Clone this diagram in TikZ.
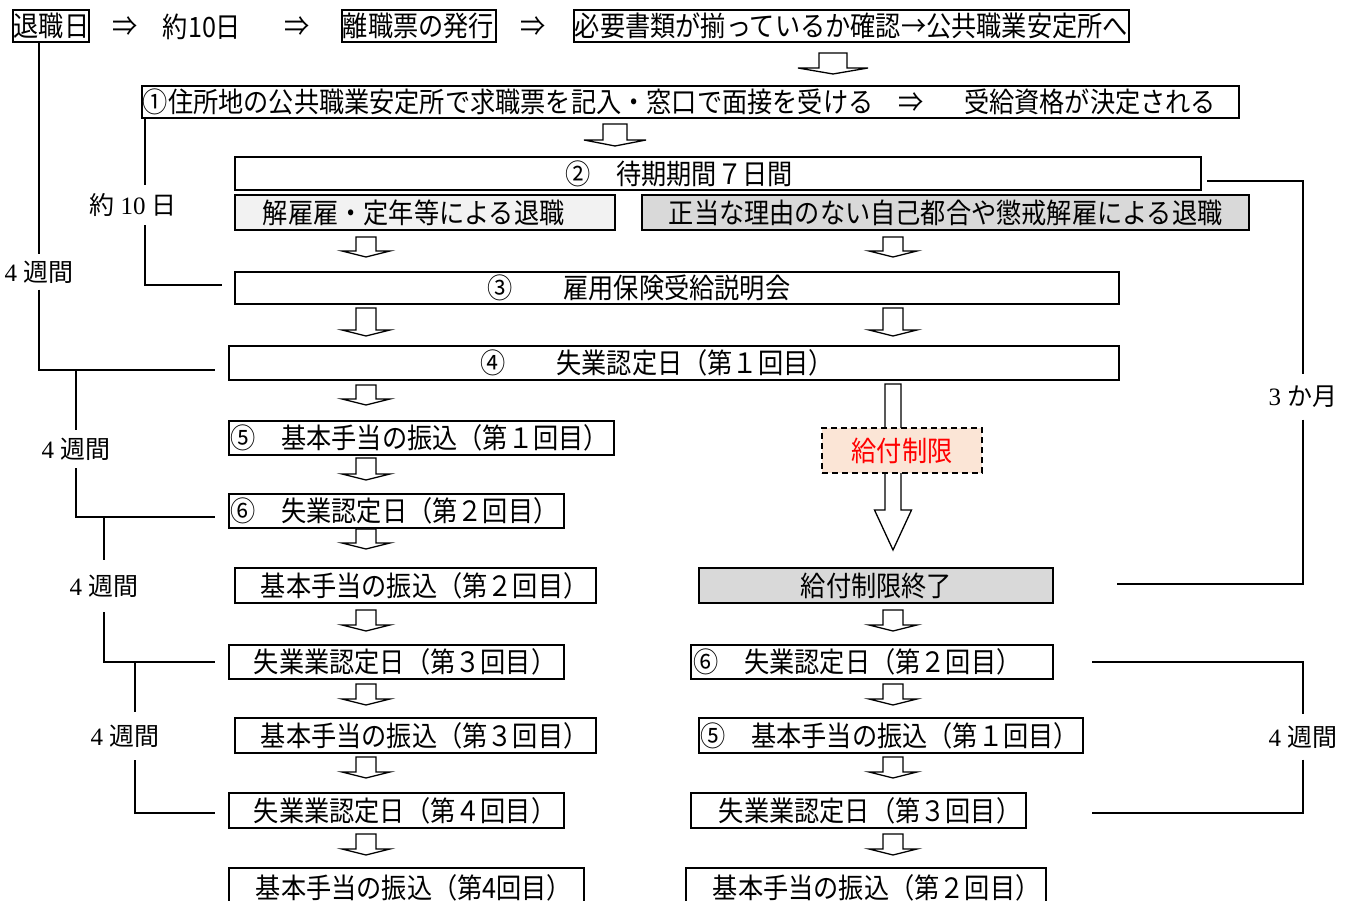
\documentclass[tikz,border=0pt]{standalone}
\usepackage{fontspec}
\setmainfont{Liberation Serif}
\newfontfamily\cjk{Noto Sans CJK JP}[FakeStretch=0.9]
\newfontfamily\cjkl{Noto Sans CJK JP}
\usetikzlibrary{calc}
\definecolor{lgray}{HTML}{F2F2F2}
\definecolor{dgray}{HTML}{D9D9D9}
\definecolor{peach}{HTML}{FBE5D6}
\newcommand\btxt[3]{\makebox[#1pt][l]{\hspace*{#2pt}#3}}
\newcommand\dnarr[6]{% x, ytop, ybot, shaft half, head half, head height
  \draw[barrow] (#1-#4,#2) -- (#1+#4,#2) -- (#1+#4,#3-#6) -- (#1+#5,#3-#6) -- (#1,#3) -- (#1-#5,#3-#6) -- (#1-#4,#3-#6) -- cycle;}
\newcommand\sarr[3]{\dnarr{#1}{#2}{#3}{10}{24}{6}}
\begin{document}
\begin{tikzpicture}[x=1pt,y=-1pt,
  bx/.style={draw=black, line width=1.6pt, inner sep=0pt, anchor=west, font=\cjk\fontsize{28}{30}\selectfont},
  plain/.style={inner sep=0pt, font=\cjk\fontsize{28}{30}\selectfont},
  lab/.style={inner sep=0pt, font=\fontsize{25}{27}\selectfont},
  brk/.style={line width=1.6pt},
  barrow/.style={draw=black, line width=1.3pt, fill=white, line join=miter}]
\useasboundingbox (0,0) rectangle (1354,901);
\clip (0,0) rectangle (1354,901);

% top row
\node[bx, minimum height=32] (r1) at (12,26) {\btxt{76}{1}{退職日}};
\node[plain] (p1) at (125,27) {⇒};
\node[plain] (d10) at (202,27) {約10日};
\node[plain] (p2) at (297,27) {⇒};
\node[bx, minimum height=32] (r2) at (341,26) {\btxt{154}{1}{離職票の発行}};
\node[plain] (p3) at (533,27) {⇒};
\node[bx, minimum height=32] (r3) at (573,26) {\btxt{555}{1}{必要書類が揃っているか確認→公共職業安定所へ}};

\dnarr{833}{53}{74}{14}{35}{6}
\node[bx, minimum height=32] (b1) at (141,102) {\btxt{1097}{1}{①住所地の公共職業安定所で求職票を記入・窓口で面接を受ける　⇒　\hspace*{15pt}受給資格が決定される}};
\dnarr{615}{124}{146}{12}{31}{6}
\node[bx, minimum height=33] (b2) at (234,173.5) {\btxt{966}{331}{②　待期期間７日間}};
\node[bx, minimum height=35, fill=lgray] (g1) at (234,212.5) {\btxt{380}{28}{解雇雇・定年等による退職}};
\node[bx, minimum height=35, fill=dgray] (g2) at (641,212.5) {\btxt{607}{27}{正当な理由のない自己都合や懲戒解雇による退職}};
\sarr{366}{237}{257}
\sarr{893}{237}{257}
\node[bx, minimum height=32] (b3) at (234,288) {\btxt{884}{253}{③　　雇用保険受給説明会}};
\sarr{366}{308}{336}
\sarr{893}{308}{336}
\node[bx, minimum height=34] (b4) at (228,363) {\btxt{890}{252}{④　　失業認定日（第１回目）}};

% left column
\sarr{366}{385}{405}
\node[bx, minimum height=34] (L5) at (228,438) {\btxt{385}{2}{⑤　基本手当の振込（第１回目）}};
\sarr{366}{458}{480}
\node[bx, minimum height=34] (L6) at (228,511) {\btxt{335}{2}{⑥　失業認定日（第２回目）}};
\sarr{366}{529}{549}
\node[bx, minimum height=35] (L7) at (234,585.5) {\btxt{361}{26}{基本手当の振込（第２回目）}};
\sarr{366}{610}{631}
\node[bx, minimum height=34] (L8) at (228,662) {\btxt{335}{25}{失業業認定日（第３回目）}};
\sarr{366}{684}{705}
\node[bx, minimum height=35] (L9) at (234,735.5) {\btxt{361}{26}{基本手当の振込（第３回目）}};
\sarr{366}{757}{778}
\node[bx, minimum height=35] (L10) at (228,810.5) {\btxt{335}{25}{失業業認定日（第４回目）}};
\sarr{366}{834}{855}
\node[bx, minimum height=40] (L11) at (228,888) {\btxt{355}{27}{基本手当の振込（第4回目）}};

% right column
\dnarr{893}{384}{550}{8}{18.5}{40}
\node[draw=black, dashed, dash pattern=on 6pt off 4pt, line width=1.5pt, fill=peach, minimum width=160, minimum height=45, inner sep=0pt, text=red, font=\cjk\fontsize{28}{30}\selectfont] (lim) at (902,450.5) {給付制限};
\node[bx, minimum height=35, fill=dgray] (end) at (698,585.5) {\btxt{354}{102}{給付制限終了}};
\sarr{893}{610}{631}
\node[bx, minimum height=34] (R6) at (690,662) {\btxt{362}{3}{⑥　失業認定日（第２回目）}};
\sarr{893}{684}{705}
\node[bx, minimum height=35] (R5) at (698,735.5) {\btxt{384}{2}{⑤　基本手当の振込（第１回目）}};
\sarr{893}{757}{778}
\node[bx, minimum height=35] (R8) at (690,810.5) {\btxt{335}{28}{失業業認定日（第３回目）}};
\sarr{893}{834}{855}
\node[bx, minimum height=40] (R11) at (685,888) {\btxt{360}{27}{基本手当の振込（第２回目）}};

% bracket labels
\node[lab, minimum height=40] (k10) at (133,205) {{\cjkl 約} 10 {\cjkl 日}};
\node[lab, minimum height=35] (w1) at (39,272) {4 {\cjkl 週間}};
\node[lab, minimum height=38] (w2) at (76,449) {4 {\cjkl 週間}};
\node[lab, minimum height=52] (w3) at (104,586) {4 {\cjkl 週間}};
\node[lab, minimum height=48] (w4) at (125,736) {4 {\cjkl 週間}};
\node[lab, minimum height=45] (m3) at (1303,397) {3 {\cjkl か月}};
\node[lab, minimum height=45] (w5) at (1303,737) {4 {\cjkl 週間}};

% bracket coordinates
\coordinate (xB) at (145,0);
\coordinate (xE) at (135,0);
\coordinate (e3) at (222,285);
\coordinate (e4) at (215,370);
\coordinate (e6) at (215,517);
\coordinate (e8) at (215,662);
\coordinate (e10) at (215,813);
\coordinate (s2) at (1207,181);
\coordinate (e12) at (1117,584);
\coordinate (f1) at (1092,662);
\coordinate (f2) at (1092,813);

% bracket lines
\draw[brk] (w1.north |- r1.south) -- (w1.north);
\draw[brk] (w1.south) |- (e4);
\draw[brk] (xB |- b1.south) -- (xB |- k10.north);
\draw[brk] (xB |- k10.south) |- (e3);
\draw[brk] (w2.north |- e4) -- (w2.north);
\draw[brk] (w2.south) |- (e6);
\draw[brk] (w3.north |- e6) -- (w3.north);
\draw[brk] (w3.south) |- (e8);
\draw[brk] (xE |- e8) -- (xE |- w4.north);
\draw[brk] (xE |- w4.south) |- (e10);
\draw[brk] (s2) -| (m3.north);
\draw[brk] (m3.south) |- (e12);
\draw[brk] (f1) -| (w5.north);
\draw[brk] (w5.south) |- (f2);
\end{tikzpicture}
\end{document}
